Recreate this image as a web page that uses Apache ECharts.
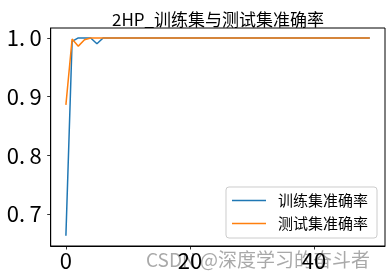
<!DOCTYPE html>
<html>
<head>
<meta charset="utf-8">
<script src="https://cdn.jsdelivr.net/npm/echarts@6/dist/echarts.min.js"></script>
<style>html,body{margin:0;padding:0;background:#fff;}#c{width:392px;height:279px;}</style>
</head>
<body>
<div id="c"></div>
<script>
var titleText = '2HP_训练集与测试集准确率';
var seriesNames = ['训练集准确率', '测试集准确率'];
var epochs = [0,1,2,3,4,5,6,7,8,9,10,11,12,13,14,15,16,17,18,19,20,21,22,23,24,25,26,27,28,29,30,31,32,33,34,35,36,37,38,39,40,41,42,43,44,45,46,47,48,49];
var trainAcc = [0.663,0.994,1.0,1.0,1.0,0.990,1.0,1.0,1.0,1.0,1.0,1.0,1.0,1.0,1.0,1.0,1.0,1.0,1.0,1.0,1.0,1.0,1.0,1.0,1.0,1.0,1.0,1.0,1.0,1.0,1.0,1.0,1.0,1.0,1.0,1.0,1.0,1.0,1.0,1.0,1.0,1.0,1.0,1.0,1.0,1.0,1.0,1.0,1.0,1.0];
var testAcc = [0.886,0.998,0.986,0.997,1.0,1.0,1.0,1.0,1.0,1.0,1.0,1.0,1.0,1.0,1.0,1.0,1.0,1.0,1.0,1.0,1.0,1.0,1.0,1.0,1.0,1.0,1.0,1.0,1.0,1.0,1.0,1.0,1.0,1.0,1.0,1.0,1.0,1.0,1.0,1.0,1.0,1.0,1.0,1.0,1.0,1.0,1.0,1.0,1.0,1.0];
var xTicks = [0, 20, 40];
var yTicks = [0.7, 0.8, 0.9, 1.0];
var watermark = 'CSDN @深度学习的奋斗者';

var FONT = '"Noto Sans CJK SC", "Noto Sans", sans-serif';
function pairs(xs, ys) { return xs.map(function (x, i) { return [x, ys[i]]; }); }

var chart = echarts.init(document.getElementById('c'), null, {renderer: 'canvas'});
chart.setOption({
  animation: false,
  backgroundColor: '#fff',
  grid: {left: 50.7, right: 7, top: 28, bottom: 33, show: true, borderColor: '#000', borderWidth: 1, backgroundColor: 'transparent'},
  xAxis: {
    type: 'value', min: -2.45, max: 51.45,
    axisLine: {show: true, onZero: false, lineStyle: {color: '#000', width: 1}},
    axisTick: {show: true, length: 3.5, lineStyle: {color: '#000', width: 0.8}, customValues: xTicks},
    axisLabel: {color: '#000', fontSize: 22, fontFamily: FONT, margin: 4, customValues: xTicks, formatter: function (v) { return String(v); }},
    splitLine: {show: false}
  },
  yAxis: {
    type: 'value', min: 0.6456, max: 1.0169,
    axisLine: {show: true, onZero: false, lineStyle: {color: '#000', width: 1}},
    axisTick: {show: true, length: 3.5, lineStyle: {color: '#000', width: 0.8}, customValues: yTicks},
    axisLabel: {color: '#000', fontSize: 22, fontFamily: FONT, margin: 9, customValues: yTicks, formatter: function (v) { return v.toFixed(1).replace('.', '.\u2009'); }},
    splitLine: {show: false}
  },
  legend: {
    orient: 'vertical', right: 15, bottom: 41,
    padding: [6, 9, 7, 6],
    backgroundColor: 'rgba(255,255,255,0.8)', borderColor: '#cccccc', borderWidth: 1, borderRadius: 3,
    icon: 'rect', itemWidth: 34, itemHeight: 1.6, itemGap: 8,
    textStyle: {fontSize: 15, fontFamily: FONT, color: '#000', lineHeight: 15, padding: [0, 0, 0, 7]},
    data: seriesNames
  },
  graphic: [
    {type: 'text', style: {text: titleText, x: 218, y: 19.5, textAlign: 'center', textVerticalAlign: 'middle', fontSize: 17, fontFamily: FONT, fill: '#000'}},
    {type: 'text', z: -10, style: {text: watermark, x: 146, y: 260, textAlign: 'left', textVerticalAlign: 'middle', fontSize: 19, fontFamily: FONT, fill: 'rgba(140,140,140,0.75)'}}
  ],
  series: [
    {name: seriesNames[0], type: 'line', data: pairs(epochs, trainAcc), symbol: 'none', lineStyle: {color: '#1f77b4', width: 1.5}, itemStyle: {color: '#1f77b4'}},
    {name: seriesNames[1], type: 'line', data: pairs(epochs, testAcc), symbol: 'none', lineStyle: {color: '#ff7f0e', width: 1.5}, itemStyle: {color: '#ff7f0e'}}
  ]
});
</script>
</body>
</html>
